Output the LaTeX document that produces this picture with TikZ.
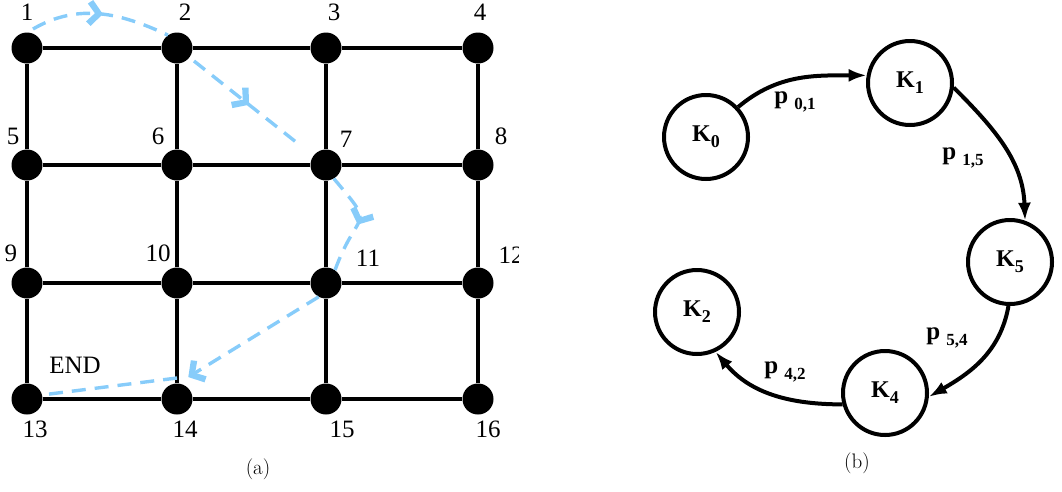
\documentclass[tikz,border=0pt]{standalone}
\usepackage{fontspec}
\newfontfamily\lbl{Liberation Serif}
\usetikzlibrary{arrows.meta,decorations.markings}
\definecolor{pathblue}{RGB}{135,204,250}
\begin{document}
\begin{tikzpicture}[x=1pt,y=-1pt,
  dot/.style={circle,fill=black,minimum size=31pt,inner sep=0pt},
  gedge/.style={line width=3.5pt},
  num/.style={font=\lbl\fontsize{25}{25}\selectfont,inner sep=0pt},
  captxt/.style={font=\fontsize{21}{21}\selectfont,inner sep=0pt},
  bpath/.style={draw=pathblue,line width=3.4pt,dash pattern=on 14pt off 9pt},
  chev/.style={postaction={decorate},decoration={markings,
     mark=at position #1 with {\fill[pathblue,solid,shorten <=0pt,shorten >=0pt]
        (2pt,0pt) -- (-9pt,-13pt) -- (-14pt,-9pt) -- (-6pt,0pt) -- (-14pt,9pt) -- (-9pt,13pt) -- cycle;}}},
  kst/.style={circle,draw,line width=4pt,minimum size=84pt,inner sep=0pt,font=\lbl\bfseries\fontsize{24}{24}\selectfont},
  plab/.style={font=\lbl\bfseries\fontsize{25}{25}\selectfont,inner sep=0pt},
  karrow/.style={line width=4pt,-{Latex[length=18pt,width=13pt]}}
]
\useasboundingbox (0,0) rectangle (1062,491);
% ---------- (a) grid ----------
\begin{scope}
\clip (0,0) rectangle (518,491);
\node[dot] (n1) at (27,48) {};
\node[dot] (n2) at (177,48) {};
\node[dot] (n3) at (326,48) {};
\node[dot] (n4) at (478,48) {};
\node[dot] (n5) at (27,165) {};
\node[dot] (n6) at (177,165) {};
\node[dot] (n7) at (326,165) {};
\node[dot] (n8) at (478,165) {};
\node[dot] (n9) at (27,283) {};
\node[dot] (n10) at (177,283) {};
\node[dot] (n11) at (326,283) {};
\node[dot] (n12) at (478,283) {};
\node[dot] (n13) at (27,399) {};
\node[dot] (n14) at (177,399) {};
\node[dot] (n15) at (326,399) {};
\node[dot] (n16) at (478,399) {};
\foreach \a/\b in {n1/n2,n2/n3,n3/n4,n5/n6,n6/n7,n7/n8,n9/n10,n10/n11,n11/n12,n13/n14,n14/n15,n15/n16,
                   n1/n5,n5/n9,n9/n13,n2/n6,n6/n10,n10/n14,n3/n7,n7/n11,n11/n15,n4/n8,n8/n12,n12/n16}
  \draw[gedge] (\a) -- (\b);
\node[num] (l1) at (27,12) {1};
\node[num] (l2) at (185,12) {2};
\node[num] (l3) at (334,12) {3};
\node[num] (l4) at (480,12) {4};
\node[num] (l5) at (13,136) {5};
\node[num] (l6) at (158,136) {6};
\node[num] (l7) at (346,139) {7};
\node[num] (l8) at (501,136) {8};
\node[num] (l9) at (11,253) {9};
\node[num] (l10) at (158,253) {10};
\node[num] (l11) at (368,258) {11};
\node[num] (l12) at (511,255) {12};
\node[num] (l13) at (35,429) {13};
\node[num] (l14) at (185,429) {14};
\node[num] (l15) at (342,429) {15};
\node[num] (l16) at (488,429) {16};
\node[num] (lend) at (75,365) {END};
% route
\coordinate (s1) at (33,29);
\coordinate (s2) at (194,61);
\coordinate (t7) at (301,146);
\coordinate (e14) at (190,376);
\coordinate (m14) at (177,378);
\draw[bpath,chev=0.5] (s1) to[out=30,in=155] (n2.125);
\draw[bpath,chev=0.5] (s2) -- (t7);
\draw[bpath,chev=0.5] (n7.-60) to[out=-50,in=70,looseness=1.9] (n11.55);
\draw[bpath,chev=1] (n11.242) -- (e14);
\draw[bpath] (m14) -- (n13.15);
\end{scope}
\node[captxt] (capa) at (258,469) {(a)};
% ---------- (b) ----------
\node[kst] (K0) at (706,137) {K\raisebox{-6pt}{\fontsize{18}{18}\selectfont 0}};
\node[kst] (K1) at (910,83) {K\raisebox{-6pt}{\fontsize{18}{18}\selectfont 1}};
\node[kst] (K5) at (1010,262) {K\raisebox{-6pt}{\fontsize{18}{18}\selectfont 5}};
\node[kst] (K2) at (697,312) {K\raisebox{-6pt}{\fontsize{18}{18}\selectfont 2}};
\node[kst] (K4) at (885,393) {K\raisebox{-6pt}{\fontsize{18}{18}\selectfont 4}};
\draw[karrow] (K0.43) to[out=40,in=180] (K1.170);
\draw[karrow] (K1.-6) to[out=-45,in=92] (K5.70);
\draw[karrow] (K5.-92) to[out=-100,in=30] (K4.-5);
\draw[karrow] (K4.195) to[out=180,in=-50] (K2.-65);
\node[plab] (p01) at (795,102) {p \raisebox{-6pt}{\fontsize{17}{17}\selectfont 0,1}};
\node[plab] (p15) at (963,158) {p \raisebox{-6pt}{\fontsize{17}{17}\selectfont 1,5}};
\node[plab] (p54) at (947,338) {p \raisebox{-6pt}{\fontsize{17}{17}\selectfont 5,4}};
\node[plab] (p42) at (785,372) {p \raisebox{-6pt}{\fontsize{17}{17}\selectfont 4,2}};
\node[captxt] (capb) at (857,463) {(b)};
\end{tikzpicture}
\end{document}
